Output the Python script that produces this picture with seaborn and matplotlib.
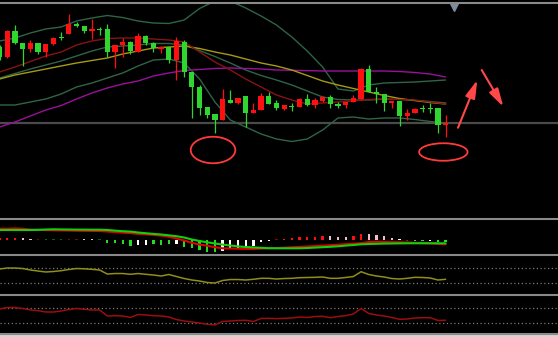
import matplotlib
matplotlib.use("Agg")
import matplotlib.pyplot as plt
import seaborn as sns
from matplotlib.patches import Ellipse, Rectangle
from matplotlib.lines import Line2D

# ---------------- data ----------------
bar_index = list(range(59))
open_ = [95.3, 94.3, 96.9, 95.7, 95.1, 95.7, 94.8, 95.6, 96.25, 96.6, 97.6, 97.4, 96.9, 97.1, 97.1,
         94.8, 95.5, 95.8, 94.8, 96.4, 95.7, 95.1, 95.3, 94.0, 95.8, 92.8, 91.3, 89.3, 88.6, 88.0,
         90.0, 89.7, 90.4, 88.7, 89.0, 90.4, 89.7, 89.1, 89.45, 89.3, 90.1, 89.5, 89.9, 90.3, 89.6,
         89.5, 89.8, 90.1, 93.1, 90.8, 90.6, 89.7, 89.9, 88.4, 88.7, 89.25, 89.25, 89.2, 87.5]
high = [95.5, 97.0, 97.5, 95.7, 96.0, 95.7, 95.6, 96.3, 96.8, 98.6, 97.8, 97.4, 98.1, 97.3, 97.6,
        95.5, 96.2, 95.9, 96.7, 96.5, 95.8, 95.4, 95.3, 96.3, 96.0, 92.8, 91.5, 89.3, 88.6, 91.1,
        91.0, 90.2, 90.4, 89.7, 90.7, 90.8, 90.0, 89.5, 89.7, 90.2, 90.6, 90.2, 90.4, 90.5, 89.8,
        89.8, 90.5, 93.2, 93.5, 91.3, 90.6, 89.9, 89.9, 89.1, 89.2, 89.5, 89.7, 89.2, 88.5]
low = [94.0, 94.2, 95.6, 93.4, 94.8, 94.6, 94.3, 95.5, 96.0, 96.6, 97.3, 96.7, 96.1, 96.5, 94.3,
       93.2, 94.3, 94.6, 94.8, 95.5, 94.8, 94.7, 93.7, 92.0, 92.3, 88.2, 88.5, 88.2, 86.7, 88.0,
       89.7, 89.6, 87.3, 88.7, 89.0, 89.6, 89.0, 89.0, 88.9, 89.3, 89.4, 89.2, 89.8, 89.2, 89.2,
       89.2, 89.8, 90.0, 90.8, 89.7, 88.9, 89.2, 87.4, 88.0, 88.7, 88.8, 88.7, 86.7, 86.3]
close = [94.3, 96.9, 95.7, 95.1, 95.7, 94.8, 95.6, 96.2, 96.15, 97.6, 97.4, 96.9, 97.1, 97.0, 94.8,
         95.5, 95.8, 94.9, 96.4, 95.7, 95.2, 95.3, 94.0, 95.9, 92.8, 91.3, 89.2, 88.5, 88.0, 90.1,
         89.7, 90.2, 88.7, 89.0, 90.4, 89.6, 89.2, 89.5, 89.35, 90.1, 89.5, 90.0, 90.3, 89.6, 89.4,
         89.8, 90.2, 93.1, 90.8, 90.6, 89.7, 89.9, 88.4, 88.7, 89.1, 89.15, 89.15, 87.5, 87.7]

line_index = list(range(0, 59, 2))
bb_upper = [95.9, 96.2, 96.7, 97.1, 97.3, 97.9, 98.2, 98.45, 98.25, 97.9, 97.7, 97.65, 98.0, 99.15, 99.9,
            99.9, 99.2, 98.4, 97.5, 96.3, 94.9, 93.3, 91.1, 90.9, 91.5, 91.7, 91.75, 91.8, 91.9, 92.0]
bb_mid = [92.2, 92.65, 93.1, 93.5, 93.9, 94.4, 94.9, 95.3, 95.4, 95.5, 95.65, 95.65, 95.5, 94.95, 94.35,
          93.7, 93.0, 92.45, 92.0, 91.5, 90.9, 90.3, 90.05, 90.0, 90.0, 90.1, 90.05, 89.95, 89.85, 89.7]
bb_lower = [89.5, 89.5, 89.8, 90.1, 90.6, 91.3, 91.7, 92.2, 92.7, 93.4, 94.0, 94.1, 93.7, 92.1, 89.8,
            88.0, 87.3, 86.6, 86.1, 85.85, 86.1, 87.0, 88.2, 88.3, 88.1, 88.2, 88.2, 88.05, 87.85, 87.7]
ma_red = [92.8, 93.3, 93.85, 94.4, 94.8, 95.5, 95.9, 96.15, 96.2, 96.2, 96.1, 96.0, 95.8, 94.8, 93.8,
          93.0, 92.1, 91.3, 90.5, 90.0, 89.6, 89.7, 89.8, 89.9, 90.05, 90.1, 90.05, 90.0, 89.8, 89.6]
ma_yellow = [92.1, 92.5, 92.8, 93.1, 93.4, 93.7, 93.95, 94.2, 94.6, 94.9, 95.2, 95.3, 95.4, 95.15, 94.8,
             94.5, 94.1, 93.7, 93.4, 93.0, 92.45, 91.9, 91.5, 91.15, 90.8, 90.45, 90.15, 89.95, 89.75, 89.6]
ma_magenta = [87.3, 87.8, 88.4, 89.0, 89.45, 90.1, 90.7, 91.2, 91.6, 91.9, 92.4, 92.7, 92.95, 93.05, 93.15,
              93.2, 93.15, 93.1, 93.0, 92.97, 92.94, 92.9, 92.9, 92.9, 92.9, 92.9, 92.85, 92.75, 92.6, 92.3]

macd_hist = [0.025, 0.025, 0.025, 0.020, 0.015, 0.008, 0.007, 0.007, 0.008, 0.008, 0.008, 0.010, 0.010, 0.008,
             -0.027, -0.033, -0.043, -0.057, -0.050, -0.050, -0.043, -0.050, -0.043, -0.043, -0.067, -0.083,
             -0.100, -0.123, -0.123, -0.107, -0.093, -0.083, -0.073, -0.057, -0.017, -0.007, 0.007, 0.013,
             0.023, 0.030, 0.030, 0.030, 0.037, 0.037, 0.033, 0.033, 0.040, 0.060, 0.060, 0.050, 0.037,
             0.020, 0.010, -0.010, -0.010, -0.010, -0.010, -0.023, -0.023]
hist_kind = ["red", "red", "red", "pink", "pink", "darkred", "darkgreen", "darkgreen", "darkgreen", "darkred",
             "darkred", "pink", "pink", "darkgreen", "green", "green", "green", "green", "white", "white",
             "green", "green", "green", "white", "green", "green", "green", "green", "green", "white", "white",
             "white", "white", "white", "white", "white", "darkred", "red", "red", "red", "red", "red", "red",
             "pink", "pink", "pink", "red", "red", "pink", "pink", "pink", "pink", "white", "darkgreen",
             "green", "green", "white", "green", "green"]
macd_green = [0.100, 0.100, 0.100, 0.100, 0.100, 0.102, 0.105, 0.107, 0.106, 0.105, 0.104, 0.104, 0.103, 0.103,
              0.100, 0.094, 0.088, 0.084, 0.075, 0.068, 0.061, 0.055, 0.047, 0.038, 0.025, 0.005, -0.010,
              -0.023, -0.035, -0.046, -0.055, -0.064, -0.070, -0.074, -0.078, -0.082, -0.083, -0.083, -0.083,
              -0.083, -0.080, -0.076, -0.072, -0.068, -0.063, -0.056, -0.050, -0.043, -0.040, -0.038, -0.036,
              -0.035, -0.034, -0.033, -0.033, -0.033, -0.033, -0.033, -0.033]
macd_red = [0.113, 0.113, 0.116, 0.112, 0.104, 0.101, 0.099, 0.097, 0.096, 0.095, 0.093, 0.092, 0.091, 0.090,
            0.085, 0.079, 0.074, 0.069, 0.062, 0.057, 0.051, 0.044, 0.033, 0.015, -0.005, -0.028, -0.046,
            -0.057, -0.072, -0.083, -0.085, -0.087, -0.089, -0.090, -0.086, -0.083, -0.080, -0.077, -0.073,
            -0.069, -0.065, -0.061, -0.057, -0.052, -0.047, -0.042, -0.037, -0.032, -0.020, -0.018, -0.020,
            -0.022, -0.023, -0.025, -0.028, -0.031, -0.033, -0.038, -0.043]

rsi_yellow = [66.7, 69.2, 69.2, 67.9, 64.1, 61.5, 59.0, 60.3, 62.3, 65.4, 67.9, 67.2, 65.9, 64.1, 53.8, 55.1,
              55.1, 53.1, 55.1, 53.1, 51.3, 48.7, 52.6, 47.4, 42.3, 38.5, 35.9, 32.1, 30.8, 37.2, 39.7, 39.7,
              38.5, 40.3, 42.8, 42.8, 41.0, 42.3, 42.8, 44.4, 44.9, 45.4, 46.2, 42.8, 42.8, 44.9, 47.4, 59.7,
              52.6, 48.7, 46.2, 42.3, 41.0, 42.8, 45.4, 44.9, 43.6, 38.5, 40.3]
rsi_red = [66.5, 70.5, 70.5, 67.9, 63.9, 62.0, 58.5, 58.5, 61.2, 65.2, 67.9, 65.7, 63.9, 63.9, 47.9, 48.7,
           47.9, 43.9, 51.9, 50.5, 48.7, 47.9, 45.2, 38.5, 34.5, 31.9, 29.2, 25.7, 23.9, 33.2, 34.5, 35.9,
           36.4, 33.2, 41.2, 41.7, 40.7, 41.7, 42.5, 45.2, 43.9, 46.5, 47.1, 43.3, 46.5, 48.7, 53.2, 67.9,
           54.5, 50.5, 47.9, 43.9, 39.1, 39.9, 42.5, 43.3, 43.3, 35.9, 36.4]
rsi_levels = [70, 30]

# ---------------- style ----------------
sns.set_theme(style="dark", rc={"axes.facecolor": "black", "figure.facecolor": "black"})
W, H = 558, 337
fig = plt.figure(figsize=(W / 100, H / 100), dpi=100)
fig.patch.set_facecolor("black")
XLIM = (0.05, 72.61)


def panel(y_top, y_bot, ylim):
    ax = fig.add_axes([0, 1 - y_bot / H, 1, (y_bot - y_top) / H])
    ax.set_facecolor("black")
    ax.set_xticks([])
    ax.set_yticks([])
    ax.grid(False)
    for s in ax.spines.values():
        s.set_visible(False)
    ax.set_xlim(*XLIM)
    ax.set_ylim(*ylim)
    return ax


# ---- main price panel ----
ax = panel(4, 218, (78.2, 99.6))
ax.axhline(close[-1], color="#4a4a4a", lw=1.6, zorder=1)

for series, col in [(bb_upper, "#2f6446"), (bb_mid, "#2f6446"), (bb_lower, "#2f6446"),
                    (ma_magenta, "#9a109a"), (ma_yellow, "#a89a12"), (ma_red, "#8a1212")]:
    sns.lineplot(x=line_index, y=series, ax=ax, color=col, linewidth=1.0, legend=False, zorder=2)

UP, DOWN = "#ff1010", "#2fd62f"
for i, o, h, l, c in zip(bar_index, open_, high, low, close):
    col = UP if c >= o else DOWN
    ax.vlines(i, l, h, color=col, lw=0.9, zorder=3)
    body = max(abs(c - o), 0.1)
    ax.bar(i, body, bottom=min(o, c), width=0.68, color=col, linewidth=0, zorder=4)

ax.add_patch(Ellipse((27.75, 85.0), 5.8, 2.65, fill=False, ec="#ff3a3a", lw=1.3, zorder=5))
ax.add_patch(Ellipse((57.7, 84.8), 6.3, 1.75, fill=False, ec="#ff3a3a", lw=1.3, zorder=5))
arrow_style = dict(arrowstyle="-|>,head_length=0.9,head_width=0.25", color="#ff4848", lw=1.5,
                   shrinkA=0, shrinkB=0)
ax.annotate("", xy=(62.12, 92.0), xytext=(59.61, 87.23), arrowprops=arrow_style, annotation_clip=False)
ax.annotate("", xy=(65.5, 89.33), xytext=(62.69, 93.0), arrowprops=arrow_style, annotation_clip=False)
ax.plot([59.1], [99.35], marker="v", ms=6, color="#7d8c9c", clip_on=False, zorder=6)

# ---- MACD panel ----
ax2 = panel(220, 254, (-0.14, 0.20))
palette = {"red": "#ff1010", "pink": "#f2bccb", "darkred": "#8b0000", "darkgreen": "#006a00",
           "green": "#1ee01e", "white": "#ffffff"}
ax2.bar(bar_index, macd_hist, width=0.3, color=[palette[k] for k in hist_kind], linewidth=0, zorder=2)
sns.lineplot(x=bar_index, y=macd_red, ax=ax2, color="#e00000", linewidth=1.5, legend=False, zorder=3)
sns.lineplot(x=bar_index, y=macd_green, ax=ax2, color="#10d010", linewidth=1.5, legend=False, zorder=3)

# ---- oscillator panels ----
ax3 = panel(256, 294, (2.6, 100))
for lv in rsi_levels:
    ax3.axhline(lv, color="#7a7a7a", lw=0.9, ls=(0, (1, 2)))
sns.lineplot(x=bar_index, y=rsi_yellow, ax=ax3, color="#8e8e18", linewidth=1.1, legend=False)

ax4 = panel(296, 333, (2.5, 101.2))
for lv in rsi_levels:
    ax4.axhline(lv, color="#7a7a7a", lw=0.9, ls=(0, (1, 2)))
sns.lineplot(x=bar_index, y=rsi_red, ax=ax4, color="#9a0e0e", linewidth=1.1, legend=False)

# ---- separators and bottom strip ----
for yy in [3, 219, 255, 295, 333.5]:
    fig.add_artist(Line2D([0, 1], [1 - yy / H] * 2, transform=fig.transFigure, color="#8a8a8a", lw=1.5))
fig.add_artist(Rectangle((0, 0), 1, 2.5 / H, transform=fig.transFigure, color="#d4d4d4"))

fig.savefig("out.png", dpi=100, facecolor="black")
